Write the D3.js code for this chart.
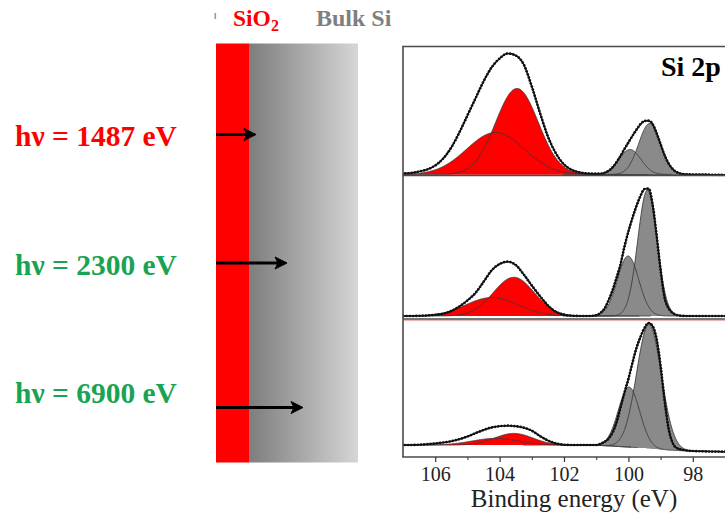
<!DOCTYPE html>
<html><head><meta charset="utf-8">
<script src="https://cdn.jsdelivr.net/npm/d3@7"></script>
<style>body{margin:0;background:#fff}svg{display:block}</style>
</head><body>
<svg id="c" width="725" height="517"></svg>
<script>
// ---------------- DATA ----------------
const energies = [107,106.75,106.5,106.25,106,105.75,105.5,105.25,105,104.75,104.5,104.25,104,103.75,103.5,103.25,103,102.75,102.5,102.25,102,101.75,101.5,101.25,101,
  100.875,100.75,100.625,100.5,100.375,100.25,100.125,100,99.875,99.75,99.625,99.5,99.375,99.25,99.125,99,98.875,98.75,98.625,98.5,
  98.25,98,97.75,97.5,97.25,97];
const envelope1487 = [2,2.5,4,6,10,17,28,43,60,77,94,108,117,122,120,111,89,63,39,22,11,5.5,3,2,1.8,
  1.8,2.6,4.5,7.8,13,19.3,26.3,33,39.6,45.7,51.3,54.5,54.8,51.5,42.4,31.2,20.2,11.9,6.4,3.3,
  1.3,1,1,0.8,0.6,0.5];
const envelope2300 = [3,3,3.2,3.5,4.2,5.3,8,12.5,18.5,26,37,48.5,55,57.3,54,44.5,33.5,23,13.5,7.2,4.3,3.3,3,3,3.7,
  6,10,18,28,40.5,54,72,87.5,101,113,123,130,130.5,115,84,49,21,10.5,6,4,
  3,3,3,3,3,3];
const envelope6900 = [12,12,12.3,12.8,13.5,14.5,15.8,17.8,20.5,23.8,27,29.5,30.8,31.3,30.8,29.3,26.3,21,16.5,13.6,12.3,12,12,12,12,
  13,15,18,24,34,49,64,78,94,109,120,129,134,131,118,91,56,28,14,9,
  6.8,6,5.7,5.5,5.4,5.3];

const photonEnergies = ["1487", "2300", "6900"];
const probingDepth = [4.0, 7.1, 8.7];          // relative information depth (arrow length)

// fitted components: [SiO2 main, SiO2 second, Si 2p3/2, Si 2p1/2]
const peakSpecies = ["SiO2", "SiO2", "Si", "Si"];
const peakCenters1487 = [103.46, 104.13, 99.34, 99.95];
const peakHeights1487 = [86, 42, 51, 25];
const peakFwhm1487    = [1.56, 2.1, 0.8, 0.8];
const peakCenters2300 = [103.56, 104.24, 99.41, 100.01];
const peakHeights2300 = [38.7, 18.5, 126, 60];
const peakFwhm2300    = [1.5, 1.9, 0.7, 0.78];
const peakCenters6900 = [103.56, 104.13, 99.36, 99.98];
const peakHeights6900 = [11.7, 6.7, 124, 60];
const peakFwhm6900    = [1.4, 1.7, 0.9, 0.78];

const backgroundE1487 = [107, 97],  backgroundI1487 = [1, 1];
const backgroundE2300 = [107, 97],  backgroundI2300 = [3, 3];
const backgroundE6900 = [107, 101, 100.3, 99.5, 98.8, 98.3, 97];
const backgroundI6900 = [12, 11.8, 10.5, 9, 7, 6.2, 5.3];

const majorTicks = [106, 104, 102, 100, 98];
const minorTicks = [105, 103, 101, 99, 97];
const xLabel = "Binding energy (eV)";
const spectrumLabel = "Si 2p";

// ---------------- DRAW ----------------
const svg = d3.select("#c");
const serif = "'Liberation Serif','Times New Roman',serif";

// ----- left schematic -----
const defs = svg.append("defs");
const grad = defs.append("linearGradient").attr("id", "bulk").attr("x1", "0").attr("x2", "1");
grad.append("stop").attr("offset", "0").attr("stop-color", "#7d7d7d");
grad.append("stop").attr("offset", "1").attr("stop-color", "#d6d6d6");

svg.append("rect").attr("x", 249).attr("y", 43.5).attr("width", 109).attr("height", 419).attr("fill", "url(#bulk)");
svg.append("rect").attr("x", 216).attr("y", 43.5).attr("width", 33).attr("height", 419).attr("fill", "#ff0000");

svg.append("rect").attr("x", 214.5).attr("y", 13).attr("width", 1.6).attr("height", 6).attr("fill", "#9a9a9a");
const t1 = svg.append("text").attr("x", 233).attr("y", 25.5).attr("font-family", serif)
  .attr("font-weight", "bold").attr("font-size", 23.5).attr("fill", "#ff0000");
t1.append("tspan").text("SiO");
t1.append("tspan").attr("dy", 5).attr("font-size", 16).text("2");
svg.append("text").attr("x", 316).attr("y", 25.5).attr("font-family", serif)
  .attr("font-weight", "bold").attr("font-size", 24).attr("fill", "#7f7f7f").text("Bulk Si");

const depth = d3.scaleLinear().domain([0, 14.2]).range([216, 358]);
const arrowY = [134.5, 263, 407.5];
const labelBase = [145.5, 275, 403];
const labelColor = ["#ff0000", "#1aa352", "#1aa352"];
photonEnergies.forEach((p, i) => {
  svg.append("text").attr("x", 15).attr("y", labelBase[i]).attr("font-family", serif)
    .attr("font-weight", "bold").attr("font-size", 29.5).attr("fill", labelColor[i])
    .text("h\u03bd = " + p + " eV");
  const tip = depth(probingDepth[i]), y = arrowY[i];
  svg.append("line").attr("x1", 216).attr("x2", tip - 6).attr("y1", y).attr("y2", y)
    .attr("stroke", "#000").attr("stroke-width", 3);
  svg.append("path").attr("d", `M${tip},${y} L${tip - 12},${y - 6} L${tip - 9},${y} L${tip - 12},${y + 6} Z`)
    .attr("fill", "#000").attr("stroke", "#000").attr("stroke-width", 1).attr("stroke-linejoin", "miter");
});

// ----- right spectra -----
const x = d3.scaleLinear().domain([107, 97]).range([403, 725]);
const panels = [
  {top: 46.5, bottom: 175.5, env: envelope1487, c: peakCenters1487, h: peakHeights1487, w: peakFwhm1487, bE: backgroundE1487, bI: backgroundI1487},
  {top: 175.5, bottom: 319, env: envelope2300, c: peakCenters2300, h: peakHeights2300, w: peakFwhm2300, bE: backgroundE2300, bI: backgroundI2300},
  {top: 319, bottom: 457, env: envelope6900, c: peakCenters6900, h: peakHeights6900, w: peakFwhm6900, bE: backgroundE6900, bI: backgroundI6900}
];

defs.append("clipPath").attr("id", "frame").append("rect")
  .attr("x", 403).attr("y", 46.5).attr("width", 330).attr("height", 410.5);
const plot = svg.append("g").attr("clip-path", "url(#frame)");

const fillColor = {SiO2: "#ff0000", Si: "#8a8a8a"};

panels.forEach(P => {
  const y = d3.scaleLinear().domain([0, P.bottom - P.top]).range([P.bottom, P.top]);
  const bg = d3.scaleLinear().domain(P.bE).range(P.bI).clamp(true);
  const g = plot.append("g");
  const comps = P.c.map((c, k) => {
    const fw = P.w[k], hh = P.h[k];
    const f = e => hh * Math.exp(-4 * Math.LN2 * (e - c) * (e - c) / (fw * fw));
    const es = d3.range(c + 2.6 * fw, c - 2.6 * fw, -0.01);
    return {k, pts: es.map(e => ({e, b: bg(e), v: f(e)}))};
  });
  const area = d3.area().x(d => x(d.e)).y0(d => y(d.b)).y1(d => y(d.b + d.v));
  const line = d3.line().x(d => x(d.e)).y(d => y(d.b + d.v));
  comps.forEach(cp => g.append("path").attr("d", area(cp.pts)).attr("fill", fillColor[peakSpecies[cp.k]]));
  comps.forEach(cp => g.append("path").attr("d", line(cp.pts)).attr("fill", "none")
    .attr("stroke", "#3a3a3a").attr("stroke-width", 0.9));
  // envelope (measured data)
  const data = energies.map((e, i) => ({e, v: P.env[i]})).reverse();
  const envLine = d3.line().x(d => x(d.e)).y(d => y(d.v)).curve(d3.curveMonotoneX);
  const path = g.append("path").attr("d", envLine(data)).attr("fill", "none")
    .attr("stroke", "#111").attr("stroke-width", 1.5);
  const L = path.node().getTotalLength();
  for (let l = 0; l <= L; l += 3.2) {
    const p = path.node().getPointAtLength(l);
    g.append("circle").attr("cx", p.x).attr("cy", p.y).attr("r", 1.35).attr("fill", "#111");
  }
});

// frame
const fr = svg.append("g").attr("stroke", "#4a4a4a").attr("stroke-width", 1.6);
fr.append("line").attr("x1", 403).attr("x2", 403).attr("y1", 46.5).attr("y2", 457);
fr.append("line").attr("x1", 402.2).attr("x2", 725).attr("y1", 46.5).attr("y2", 46.5);
fr.append("line").attr("x1", 403).attr("x2", 725).attr("y1", 175.5).attr("y2", 175.5);
fr.append("line").attr("x1", 403).attr("x2", 725).attr("y1", 319).attr("y2", 319);
svg.append("line").attr("x1", 404).attr("x2", 725).attr("y1", 320.6).attr("y2", 320.6)
  .attr("stroke", "#e8b0b0").attr("stroke-width", 1);
fr.append("line").attr("x1", 402.2).attr("x2", 725).attr("y1", 457).attr("y2", 457);

svg.append("text").attr("x", 661).attr("y", 76).attr("font-family", serif)
  .attr("font-weight", "bold").attr("font-size", 28).attr("fill", "#000").text(spectrumLabel);

// axis
const ax = svg.append("g").attr("transform", "translate(0,457)")
  .call(d3.axisBottom(x).tickValues(majorTicks).tickSize(5).tickPadding(5).tickSizeOuter(0));
ax.select(".domain").remove();
ax.selectAll("line").attr("stroke", "#333").attr("stroke-width", 1.2);
ax.selectAll("text").attr("font-family", serif).attr("font-size", 20).attr("fill", "#222");
const axm = svg.append("g").attr("transform", "translate(0,457)")
  .call(d3.axisBottom(x).tickValues(minorTicks).tickSize(3).tickFormat("").tickSizeOuter(0));
axm.select(".domain").remove();
axm.selectAll("line").attr("stroke", "#333").attr("stroke-width", 1);

svg.append("text").attr("x", 574).attr("y", 507).attr("text-anchor", "middle")
  .attr("font-family", serif).attr("font-size", 25).attr("fill", "#222").text(xLabel);
</script>
</body></html>
